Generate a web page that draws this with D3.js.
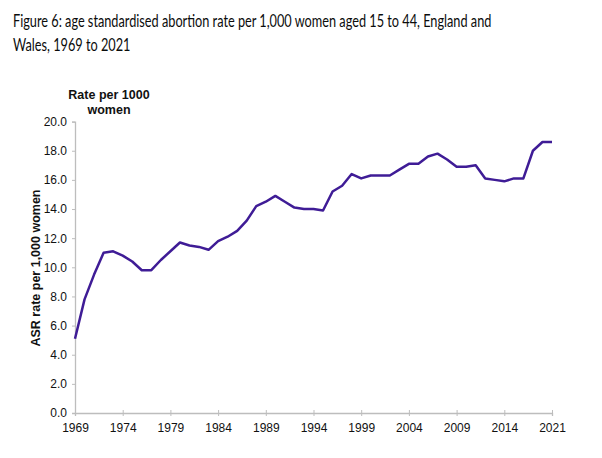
<!DOCTYPE html>
<html>
<head>
<meta charset="utf-8">
<script src="https://cdn.jsdelivr.net/npm/d3@7"></script>
<style>
  body { margin: 0; background: #fff; }
  svg { display: block; }
</style>
</head>
<body>
<script>
// years shown in the source chart (2017 and 2018 not plotted)
var years = [1969,1970,1971,1972,1973,1974,1975,1976,1977,1978,1979,1980,1981,1982,1983,1984,
  1985,1986,1987,1988,1989,1990,1991,1992,1993,1994,1995,1996,1997,1998,1999,2000,2001,2002,
  2003,2004,2005,2006,2007,2008,2009,2010,2011,2012,2013,2014,2015,2016,2019,2020,2021];
var rates = [5.1,7.8,9.5,11.0,11.1,10.8,10.4,9.8,9.8,10.5,11.1,11.7,11.5,11.4,11.2,11.8,
  12.1,12.5,13.2,14.2,14.5,14.9,14.5,14.1,14.0,14.0,13.9,15.2,15.6,16.4,16.1,16.3,16.3,16.3,
  16.7,17.1,17.1,17.6,17.8,17.4,16.9,16.9,17.0,16.1,16.0,15.9,16.1,16.1,18.0,18.6,18.6];
var yTicks = [0,2,4,6,8,10,12,14,16,18,20];
var xLabelYears = [1969,1974,1979,1984,1989,1994,1999,2004,2009,2014,2021];
var titleLines = ["Figure 6: age standardised abortion rate per 1,000 women aged 15 to 44, England and",
  "Wales, 1969 to 2021"];

var W = 602, H = 458;
var svg = d3.select("body").append("svg").attr("width", W).attr("height", H);

// title, squeezed horizontally so the first line is ~479px wide like the source
var title = svg.append("g").attr("class", "title");
var tlines = title.selectAll("text").data(titleLines).enter().append("text")
  .attr("x", 0)
  .attr("y", function(d, i){ return 27 + i * 24; })
  .attr("font-family", "Lato, 'Noto Sans', sans-serif")
  .attr("font-size", 16.5)
  .attr("fill", "#0b0c0c")
  .text(function(d){ return d; });
var natural = tlines.node().getComputedTextLength();
var k = Math.min(1, 479 / natural);
title.attr("transform", "translate(13,0) scale(" + k + ",1)");

var x = d3.scalePoint().domain(years).range([75, 552]);
var y = d3.scaleLinear().domain([0, 20]).range([413, 121.6]);

var axisColor = "#bdbdbd";
var font = "'Liberation Sans', Arial, sans-serif";

// y axis
var gy = svg.append("g").attr("transform", "translate(75,0)")
  .call(d3.axisLeft(y).tickValues(yTicks).tickSize(3).tickPadding(5)
    .tickFormat(d3.format(".1f")));
gy.attr("font-family", font).attr("font-size", 12);
gy.select(".domain").attr("stroke", axisColor).attr("stroke-width", 1.3);
gy.selectAll(".tick line").attr("stroke", axisColor);
gy.selectAll(".tick text").attr("fill", "#111");

// x axis
var gx = svg.append("g").attr("transform", "translate(0,413)")
  .call(d3.axisBottom(x).tickValues(xLabelYears).tickSize(3).tickPadding(7));
gx.attr("font-family", font).attr("font-size", 12);
gx.select(".domain").attr("stroke", axisColor).attr("stroke-width", 1.3);
gx.selectAll(".tick line").attr("stroke", axisColor).attr("y1", -3);
gx.selectAll(".tick text").attr("fill", "#111");

// axis titles
var unitLabel = svg.append("text")
  .attr("font-family", font).attr("font-size", 12.5).attr("font-weight", "bold")
  .attr("text-anchor", "middle").attr("fill", "#111");
unitLabel.append("tspan").attr("x", 109).attr("y", 99).text("Rate per 1000");
unitLabel.append("tspan").attr("x", 109).attr("y", 114).text("women");

svg.append("text")
  .attr("transform", "translate(40,268) rotate(-90)")
  .attr("font-family", font).attr("font-size", 12.5).attr("font-weight", "bold")
  .attr("text-anchor", "middle").attr("fill", "#111")
  .text("ASR rate per 1,000 women");

// line
var line = d3.line()
  .x(function(d, i){ return x(years[i]); })
  .y(function(d){ return y(d); });

svg.append("path").datum(rates)
  .attr("d", line)
  .attr("fill", "none")
  .attr("stroke", "#3f1c96")
  .attr("stroke-width", 2.5)
  .attr("stroke-linejoin", "round");
</script>
</body>
</html>
